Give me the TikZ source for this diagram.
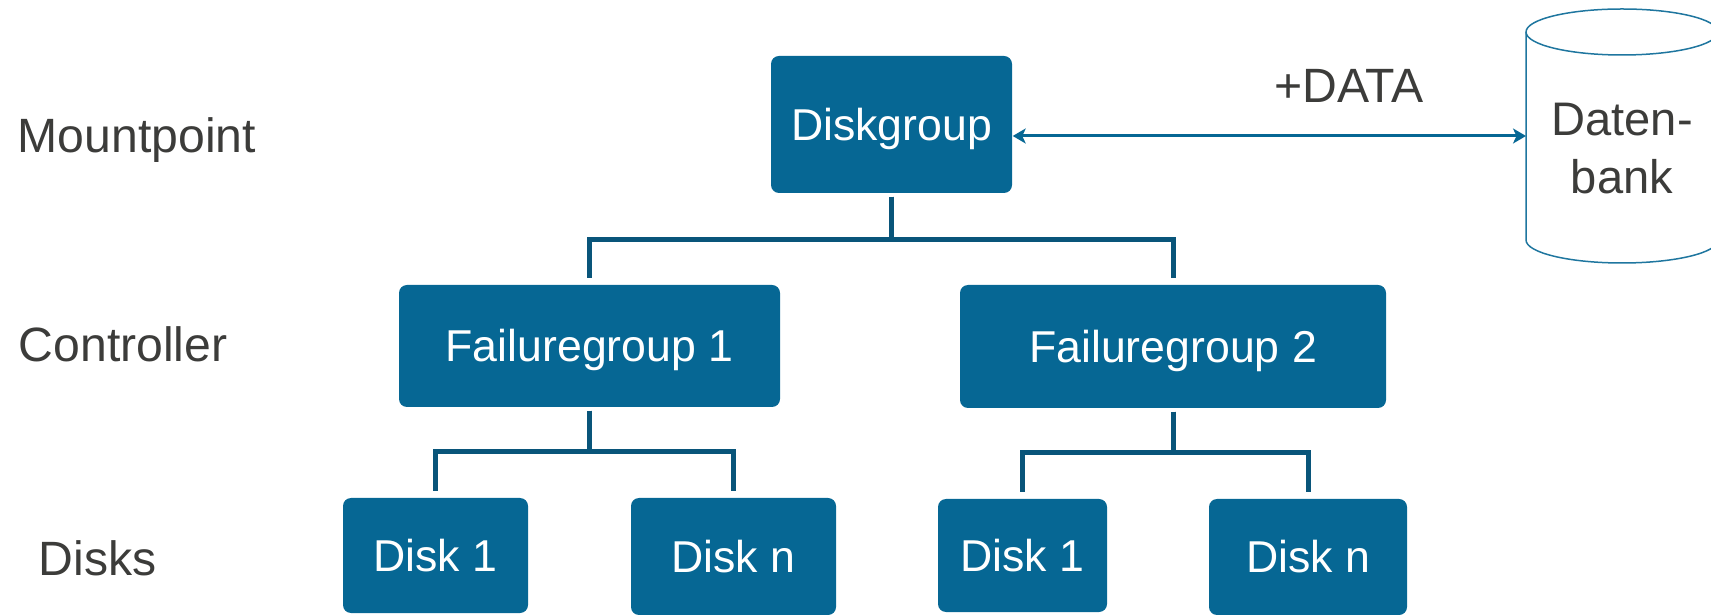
\documentclass[tikz,border=0pt]{standalone}
\usepackage{fontspec}
\setmainfont{Liberation Sans}
\usetikzlibrary{arrows.meta,positioning}

\definecolor{boxblue}{RGB}{6,103,148}
\definecolor{linkblue}{RGB}{9,85,122}
\definecolor{txtgray}{RGB}{60,60,58}

\begin{document}
\begin{tikzpicture}[x=0.1mm,y=-0.1mm,
    level/.style={anchor=base west, inner sep=0pt, text=txtgray, font=\fontsize{13.7}{16}\selectfont},
    box/.style={fill=boxblue, rounded corners=0.8mm, text=white, font=\fontsize{12.7}{15}\selectfont, text height=9.1pt, text depth=0pt, inner sep=0pt},
    link/.style={draw=linkblue, line width=0.5mm, shorten <=0.3mm, shorten >=0.6mm},
    dbline/.style={draw=boxblue!90!white, line width=0.15mm},
    dbtext/.style={align=center, inner sep=0pt, text=txtgray, font=\fontsize{13.4}{16.5}\selectfont},
    dblarrow/.style={{Stealth[length=1.3mm,width=1.5mm,inset=0.35mm]}-{Stealth[length=1.3mm,width=1.5mm,inset=0.35mm]}, draw=boxblue, line width=0.3mm}]
       \clip (0,0) rectangle (1711,615);
       % layer labels
       \node[level] (mp) at (17,153) {Mountpoint};
       \node[level] (ctl) at (18,362) {Controller};
       \node[level] (dk) at (38,575) {Disks};
       % boxes
       \node[box, minimum width=24.1mm, minimum height=13.7mm] (dg) at (891.5,124.5) {Diskgroup};
       \node[box, minimum width=38.1mm, minimum height=12.2mm] (fg1) at (589.5,346) {Failuregroup 1};
       \node[box, minimum width=42.6mm, minimum height=12.3mm] (fg2) at (1173,346.5) {Failuregroup 2};
       \node[box, minimum width=18.5mm, minimum height=11.5mm] (d1a) at (435.5,555.5) {Disk 1};
       \node[box, minimum width=20.5mm, minimum height=11.7mm] (dna) at (733.5,556.5) {Disk n};
       \node[box, minimum width=16.9mm, minimum height=11.3mm] (d1b) at (1022.5,555.5) {Disk 1};
       \node[box, minimum width=19.8mm, minimum height=11.6mm] (dnb) at (1308,557) {Disk n};
       % database
       \draw[dbline] (1526,32) -- (1526,240) arc[start angle=180, end angle=360, x radius=9.6mm, y radius=2.3mm] -- (1718,32);
       \draw[dbline] (1622,32) ellipse[x radius=9.6mm, y radius=2.3mm];
       \node[dbtext] (db) at (1622,149) {Daten-\\bank};
       \coordinate (dbw) at (1526,136);
       \draw[dblarrow] (dbw -| dg.east) -- (dbw);
       \node[level, anchor=base] (plusdata) at (1349,103) {+DATA};
       % tree
       \coordinate (j1) at (0,239.5);
       \coordinate (j2) at (0,452);
       \coordinate (j3) at (0,453);
       \draw[link] (dg.south) -- (dg.south |- j1) -| (fg1.north);
       \draw[link] (dg.south) -- (dg.south |- j1) -| (fg2.north);
       \draw[link] (fg1.south) -- (fg1.south |- j2) -| (d1a.north);
       \draw[link] (fg1.south) -- (fg1.south |- j2) -| (dna.north);
       \draw[link] (fg2.south) -- (fg2.south |- j3) -| (d1b.north);
       \draw[link] (fg2.south) -- (fg2.south |- j3) -| (dnb.north);
\end{tikzpicture}
\end{document}
